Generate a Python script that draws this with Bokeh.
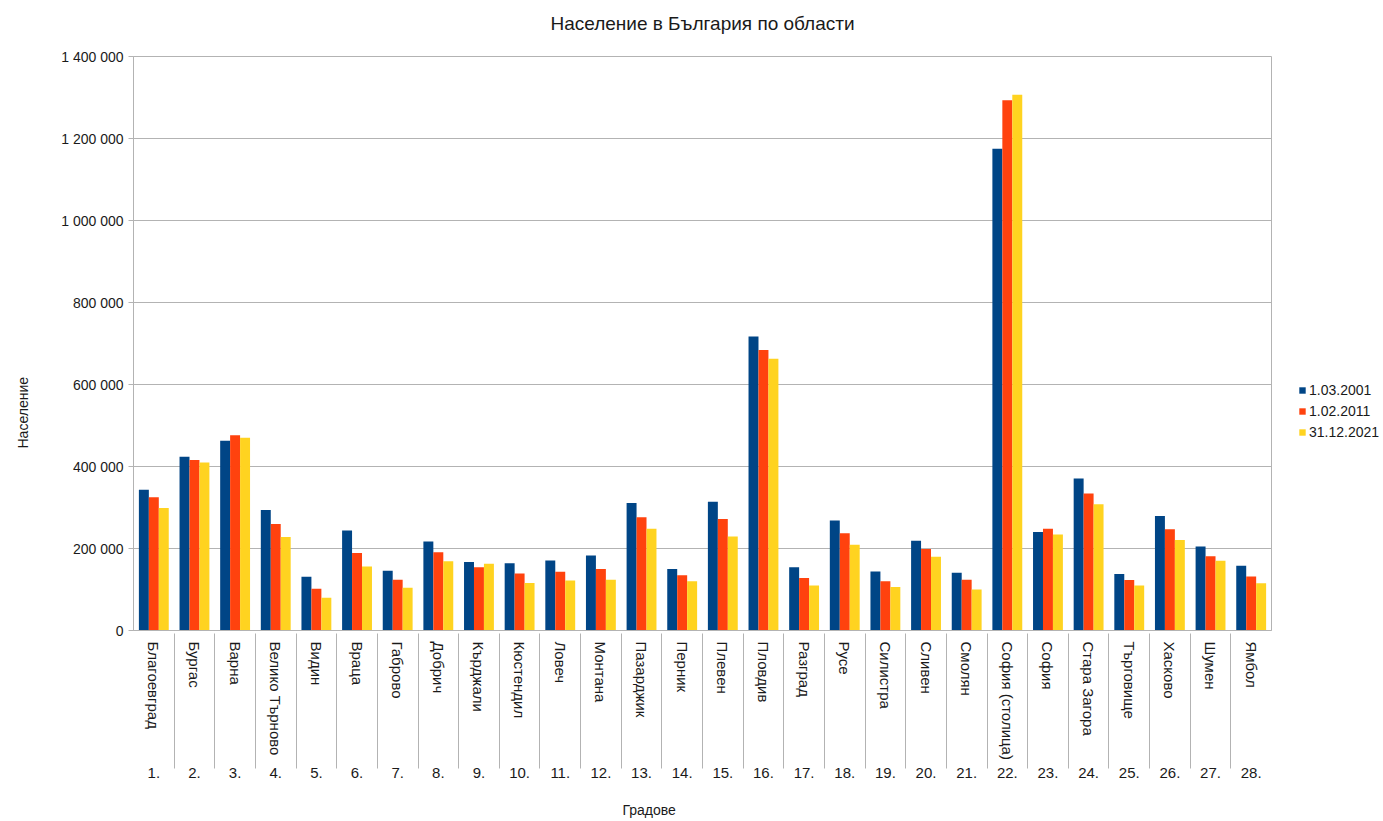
from bokeh.plotting import figure
from bokeh.models import (ColumnDataSource, FactorRange, Legend, LegendItem,
                          CustomJSTickFormatter, FixedTicker, Title)
from bokeh.transform import dodge
from bokeh.embed import file_html
from bokeh.resources import INLINE

numbers = ["1.", "2.", "3.", "4.", "5.", "6.", "7.", "8.", "9.", "10.",
           "11.", "12.", "13.", "14.", "15.", "16.", "17.", "18.", "19.", "20.",
           "21.", "22.", "23.", "24.", "25.", "26.", "27.", "28."]
regions = ["Благоевград", "Бургас", "Варна", "Велико Търново", "Видин", "Враца",
           "Габрово", "Добрич", "Кърджали", "Кюстендил", "Ловеч", "Монтана",
           "Пазарджик", "Перник", "Плевен", "Пловдив", "Разград", "Русе",
           "Силистра", "Сливен", "Смолян", "София (столица)", "София",
           "Стара Загора", "Търговище", "Хасково", "Шумен", "Ямбол"]

pop_2001 = [343000, 424000, 463000, 294000, 131000, 244000, 146000, 217000,
            167000, 164000, 171000, 183000, 311000, 150000, 314000, 717000,
            154000, 268000, 144000, 219000, 141000, 1175000, 240000, 371000,
            138000, 279000, 205000, 158000]
pop_2011 = [325000, 416000, 476000, 260000, 102000, 189000, 124000, 191000,
            154000, 139000, 143000, 150000, 276000, 135000, 272000, 684000,
            128000, 237000, 120000, 199000, 124000, 1293000, 248000, 334000,
            123000, 247000, 181000, 132000]
pop_2021 = [299000, 410000, 470000, 228000, 80000, 156000, 104000, 169000,
            163000, 116000, 122000, 124000, 248000, 120000, 229000, 663000,
            110000, 209000, 106000, 180000, 100000, 1307000, 234000, 308000,
            110000, 221000, 170000, 115000]

series_labels = ["1.03.2001", "1.02.2011", "31.12.2021"]
colors = ["#004586", "#ff420e", "#ffd320"]
y_ticks = [0, 200000, 400000, 600000, 800000, 1000000, 1200000, 1400000]
title_text = "Население в България по области"
y_title = "Население"
x_title = "Градове"

FONT = "Liberation Sans"
GRID = "#b3b3b3"
TXT = "#1a1a1a"

factors = list(zip(numbers, regions))
source = ColumnDataSource(data=dict(x=factors, a=pop_2001, b=pop_2011, c=pop_2021))

x_range = FactorRange(factors=factors, group_padding=0, factor_padding=0,
                      range_padding=0)

p = figure(frame_width=1138, frame_height=574, x_range=x_range,
           y_range=(0, 1400000),
           output_backend="svg", toolbar_location=None,
           min_border_left=133, min_border_right=112,
           min_border_top=56, min_border_bottom=191)

bw = 0.245
renderers = []
for col, off, colr in zip(["a", "b", "c"], [-bw, 0, bw], colors):
    r = p.vbar(x=dodge("x", off, range=p.x_range), top=col, width=bw,
               source=source, fill_color=colr, line_color=None)
    renderers.append(r)

legend = Legend(items=[LegendItem(label=l, renderers=[r])
                       for l, r in zip(series_labels, renderers)],
                location=(27, 190), border_line_color=None,
                background_fill_alpha=0, label_text_font=FONT,
                label_text_font_size="14px", label_text_color=TXT,
                glyph_width=8, glyph_height=8,
                label_height=16, spacing=5, padding=0, margin=0,
                label_standoff=3)
p.add_layout(legend, "right")

# main title: an extra blank line below lifts it towards the top edge
p.add_layout(Title(text=title_text + "\n ", align="center", standoff=0,
                   vertical_align="top",
                   text_font=FONT, text_font_size="19px",
                   text_font_style="normal", text_color=TXT), "above")

p.outline_line_color = GRID
p.background_fill_color = "white"
p.border_fill_color = "white"

p.yaxis.ticker = FixedTicker(ticks=y_ticks)
p.yaxis.formatter = CustomJSTickFormatter(
    code="return tick.toLocaleString('en-US').replace(/,/g, ' ');")
p.yaxis.major_label_text_font = FONT
p.yaxis.major_label_text_font_size = "14px"
p.yaxis.major_label_text_color = TXT
p.yaxis.axis_line_color = GRID
p.yaxis.major_tick_line_color = GRID
p.yaxis.major_tick_out = 5
p.yaxis.major_tick_in = 0
p.yaxis.minor_tick_line_color = None

p.xaxis.major_label_orientation = "vertical"
p.xaxis.major_label_text_font = FONT
p.xaxis.major_label_text_font_size = "15px"
p.xaxis.major_label_text_color = TXT
p.xaxis.group_text_font = FONT
p.xaxis.group_text_font_size = "15px"
p.xaxis.group_text_font_style = "normal"
p.xaxis.group_text_color = TXT
p.xaxis.group_label_orientation = "parallel"
p.xaxis.separator_line_color = GRID
p.xaxis.separator_line_width = 1
p.xaxis.axis_line_color = GRID
p.xaxis.major_tick_line_color = None
p.xaxis.minor_tick_line_color = None

p.xgrid.grid_line_color = None
p.ygrid.grid_line_color = GRID
p.ygrid.ticker = FixedTicker(ticks=y_ticks)

# axis titles as side-panel titles, shifted like the reference
p.add_layout(Title(text=y_title + "\n ", align="left", offset=182, standoff=20,
                   vertical_align="top",
                   text_font=FONT, text_font_size="14px",
                   text_font_style="normal", text_color=TXT), "left")
p.add_layout(Title(text=" \n" + x_title, align="left", offset=489, standoff=6,
                   vertical_align="bottom",
                   text_font=FONT, text_font_size="14px",
                   text_font_style="normal", text_color=TXT), "below")

open("out.html", "w").write(file_html(p, INLINE))
